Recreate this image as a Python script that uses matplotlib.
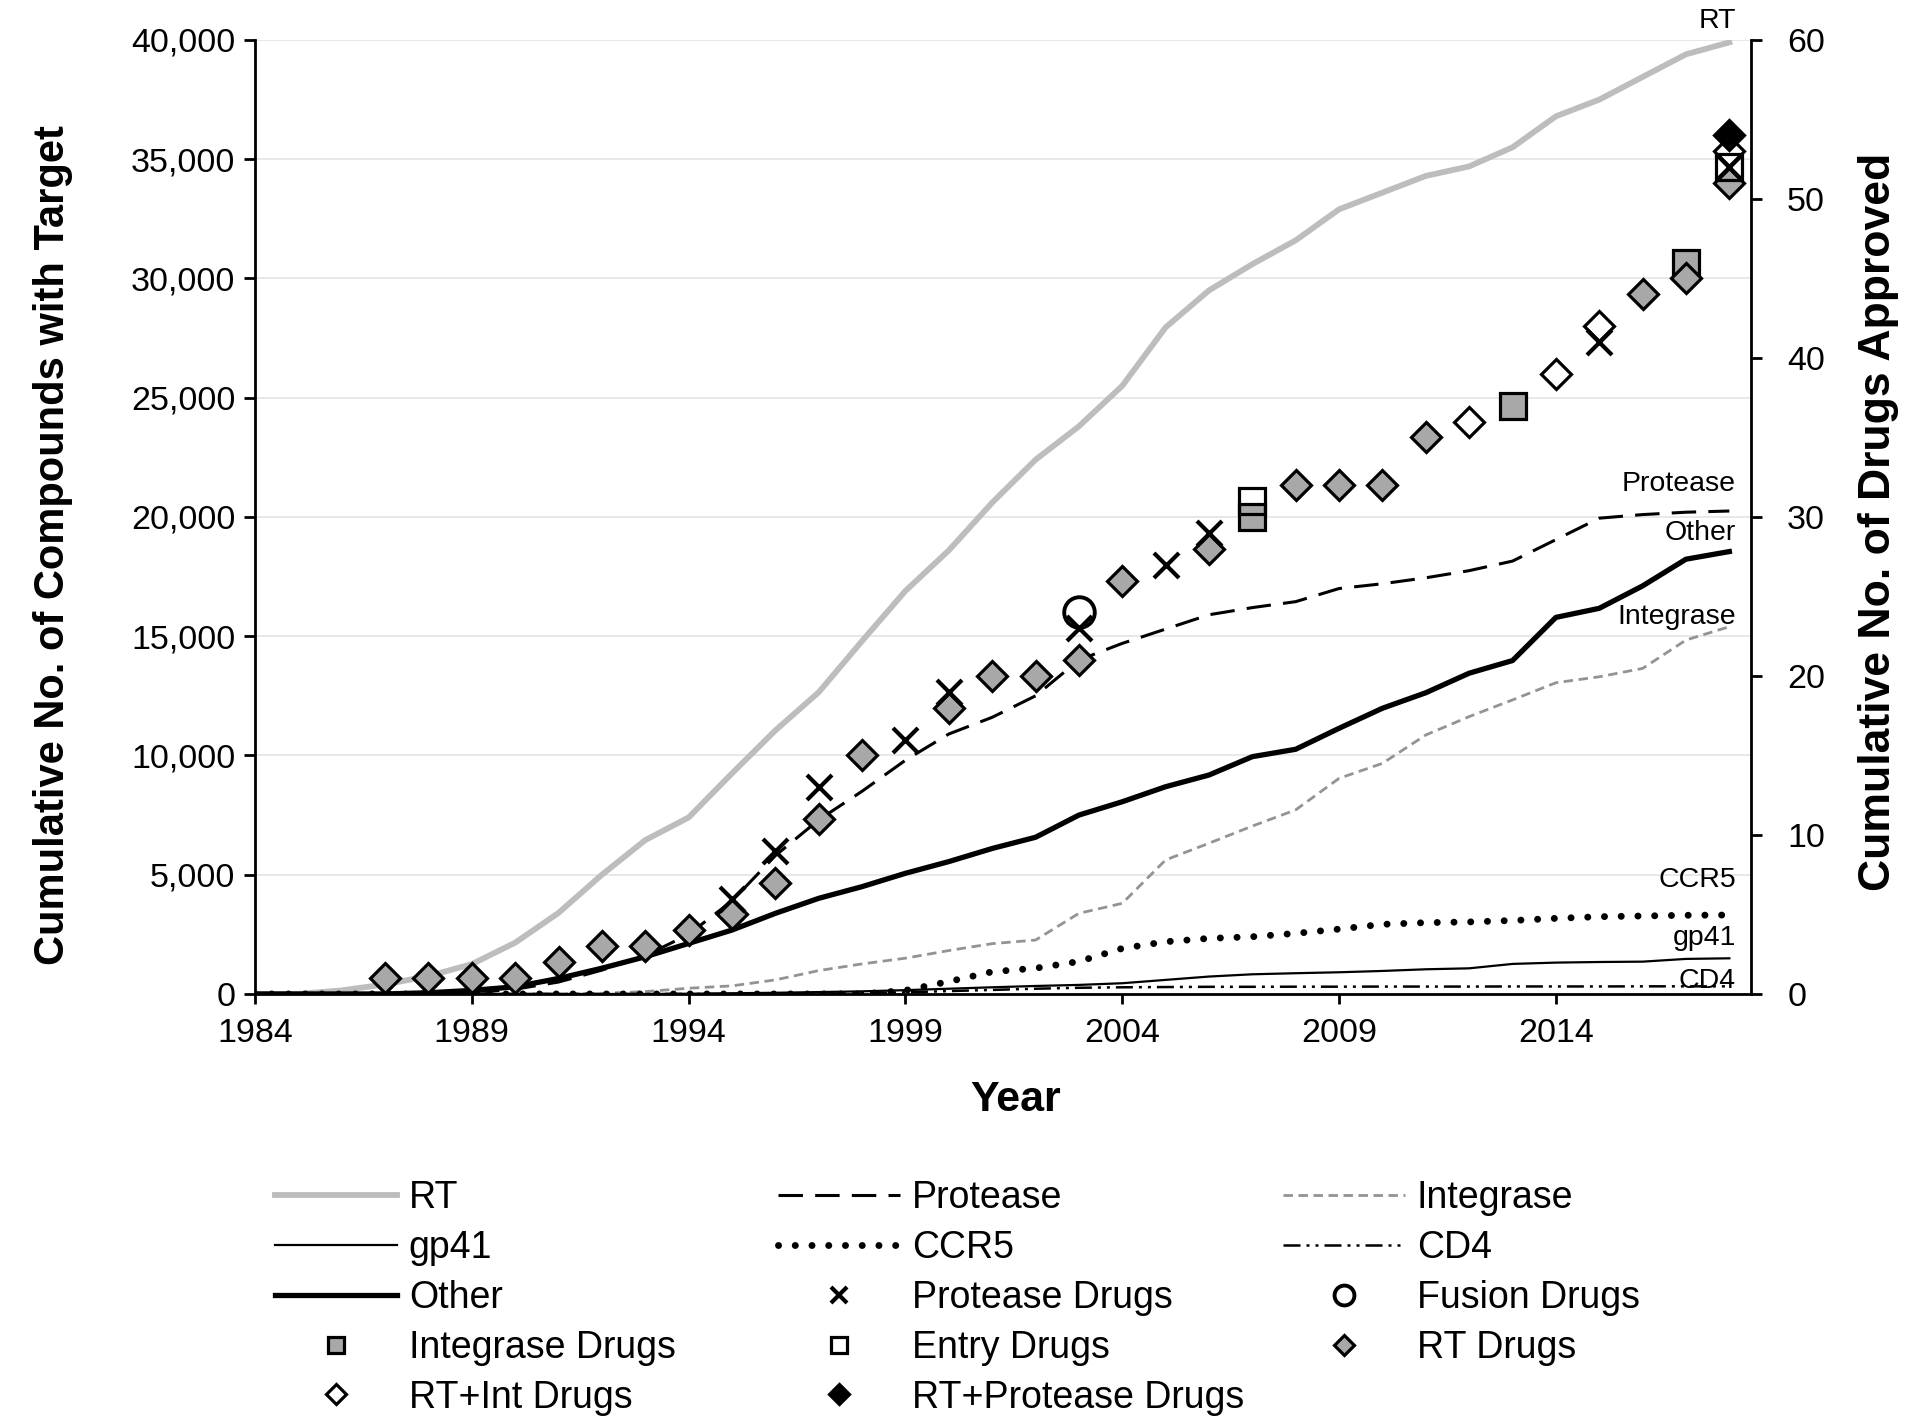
import matplotlib.pyplot as plt

plt.rcParams['font.family'] = ['Liberation Sans', 'DejaVu Sans']

# yearly cumulative compounds per target (left axis)
years = [1984, 1985, 1986, 1987, 1988, 1989, 1990, 1991, 1992, 1993, 1994, 1995,
         1996, 1997, 1998, 1999, 2000, 2001, 2002, 2003, 2004, 2005, 2006, 2007,
         2008, 2009, 2010, 2011, 2012, 2013, 2014, 2015, 2016, 2017, 2018]
rt = [0, 0, 150, 400, 750, 1250, 2150, 3400, 5000, 6450, 7400, 9250,
      11050, 12650, 14800, 16900, 18600, 20600, 22400, 23800, 25500, 27950, 29500, 30600,
      31600, 32900, 33600, 34300, 34700, 35500, 36800, 37500, 38450, 39400, 39900]
protease = [0, 0, 0, 0, 0, 50, 200, 500, 1000, 1600, 2500, 3900,
            5800, 7300, 8500, 9800, 10900, 11600, 12500, 14000, 14700, 15300, 15900, 16200,
            16450, 17000, 17200, 17450, 17750, 18150, 19050, 19950, 20100, 20200, 20250]
integrase = [0, 0, 0, 0, 0, 0, 0, 0, 30, 100, 240, 340,
             590, 980, 1260, 1500, 1820, 2110, 2260, 3380, 3800, 5620, 6320, 7040,
             7720, 9040, 9670, 10860, 11630, 12330, 13050, 13300, 13650, 14840, 15400]
gp41 = [0, 0, 0, 0, 0, 0, 0, 0, 0, 0, 10, 30,
        50, 80, 110, 160, 220, 280, 335, 380, 450, 590, 730, 825,
        870, 910, 965, 1035, 1075, 1260, 1315, 1340, 1355, 1470, 1495]
ccr5 = [0, 0, 0, 0, 0, 0, 0, 0, 0, 0, 0, 0,
        0, 0, 0, 150, 520, 930, 1080, 1360, 1910, 2190, 2330, 2400,
        2540, 2720, 2920, 2990, 3020, 3080, 3170, 3240, 3270, 3300, 3310]
cd4 = [0, 0, 0, 0, 0, 0, 0, 0, 0, 0, 0, 0,
       0, 0, 30, 70, 120, 170, 220, 260, 280, 290, 300, 300,
       305, 305, 310, 310, 310, 315, 315, 315, 320, 320, 320]
other = [0, 0, 0, 0, 50, 150, 300, 650, 1080, 1560, 2120, 2680,
         3380, 4010, 4500, 5060, 5550, 6100, 6570, 7500, 8060, 8690, 9180, 9950,
         10260, 11140, 11980, 12630, 13450, 13980, 15790, 16170, 17110, 18230, 18550]

# cumulative drugs approved (right axis), by class of new drug
rt_drug_years = [1987, 1988, 1989, 1990, 1991, 1992, 1993, 1994, 1995, 1996, 1997, 1998,
                 2000, 2001, 2002, 2003, 2004, 2006, 2008, 2009, 2010, 2011, 2016, 2017, 2018]
rt_drug_n = [1, 1, 1, 1, 2, 3, 3, 4, 5, 7, 11, 15,
             18, 20, 20, 21, 26, 28, 32, 32, 32, 35, 44, 45, 51]
prot_drug_years = [1995, 1996, 1997, 1999, 2000, 2003, 2005, 2006, 2015, 2018]
prot_drug_n = [6, 9, 13, 16, 19, 23, 27, 29, 41, 52]
int_drug_years = [2007, 2013, 2017]
int_drug_n = [30, 37, 46]
entry_drug_years = [2007, 2018]
entry_drug_n = [31, 52]
fusion_drug_years = [2003]
fusion_drug_n = [24]
rtint_drug_years = [2012, 2014, 2015, 2018]
rtint_drug_n = [36, 39, 42, 53]
rtprot_drug_years = [2018]
rtprot_drug_n = [54]

x_ticks = [1984, 1989, 1994, 1999, 2004, 2009, 2014]
y_ticks = [0, 5000, 10000, 15000, 20000, 25000, 30000, 35000, 40000]
y_ticklabels = ['0', '5,000', '10,000', '15,000', '20,000', '25,000', '30,000', '35,000', '40,000']
y2_ticks = [0, 10, 20, 30, 40, 50, 60]

fig = plt.figure(figsize=(19.2, 14.23), dpi=100)
ax = fig.add_axes([0.1328, 0.3015, 0.7792, 0.6704])

l_rt, = ax.plot(years, rt, color='#bdbdbd', lw=4.2, label='RT')
l_prot, = ax.plot(years, protease, color='black', lw=2.2, dashes=(8, 4), label='Protease')
l_int, = ax.plot(years, integrase, color='#939393', lw=2, dashes=(3.4, 2), label='Integrase')
l_gp41, = ax.plot(years, gp41, color='black', lw=1.6, label='gp41')
l_ccr5, = ax.plot(years, ccr5, color='black', lw=5, dashes=(0.01, 2.4),
                  dash_capstyle='round', label='CCR5')
l_cd4, = ax.plot(years, cd4, color='black', lw=1.8, dashes=(6.8, 2.4, 1.2, 2.4, 1.2, 2.4), label='CD4')
l_other, = ax.plot(years, other, color='black', lw=3.8, label='Other')

ax.set_xlim(1984, 2018.5)
ax.set_ylim(0, 40000)
ax.set_xticks(x_ticks)
ax.set_yticks(y_ticks)
ax.set_yticklabels(y_ticklabels)
ax.grid(axis='y', color='#e6e6e6', lw=1.3)
ax.set_axisbelow(True)
for s in ['top', 'right']:
    ax.spines[s].set_visible(False)
for s in ['left', 'bottom']:
    ax.spines[s].set_linewidth(2)
ax.tick_params(axis='y', direction='out', length=8, width=2, labelsize=24.5, pad=6)
ax.tick_params(axis='x', direction='out', length=7, width=2, labelsize=24.5, pad=10)

ax2 = ax.twinx()
ax2.set_ylim(0, 60)
ax2.set_yticks(y2_ticks)
for s in ['top', 'left', 'bottom']:
    ax2.spines[s].set_visible(False)
ax2.spines['right'].set_linewidth(2)
ax2.tick_params(axis='y', direction='out', length=8, width=2, labelsize=24.5, pad=18)

gray = '#a8a8a8'
m_int, = ax2.plot(int_drug_years, int_drug_n, ls='none', marker='s', ms=18.5, mfc=gray,
                  mec='black', mew=2.3, label='Integrase Drugs')
m_rt, = ax2.plot(rt_drug_years, rt_drug_n, ls='none', marker='D', ms=15.5, mfc=gray,
                 mec='black', mew=2.3, label='RT Drugs')
m_rtint, = ax2.plot(rtint_drug_years, rtint_drug_n, ls='none', marker='D', ms=15.5, mfc='white',
                    mec='black', mew=2.3, label='RT+Int Drugs')
m_entry, = ax2.plot(entry_drug_years, entry_drug_n, ls='none', marker='s', ms=18.5, mfc='none',
                    mec='black', mew=2.3, label='Entry Drugs')
m_prot, = ax2.plot(prot_drug_years, prot_drug_n, ls='none', marker='x', ms=18, mec='black',
                   mew=3, label='Protease Drugs')
m_fus, = ax2.plot(fusion_drug_years, fusion_drug_n, ls='none', marker='o', ms=22, mfc='none',
                  mec='black', mew=2.8, label='Fusion Drugs')
m_rtprot, = ax2.plot(rtprot_drug_years, rtprot_drug_n, ls='none', marker='D', ms=15.5, mfc='black',
                     mec='black', mew=2.3, label='RT+Protease Drugs')

# labels at the end of each line
end_labels = ['RT', 'Protease', 'Other', 'Integrase', 'CCR5', 'gp41', 'CD4']
end_label_y = [40800, 21400, 19340, 15800, 4760, 2350, 550]
for txt, yv in zip(end_labels, end_label_y):
    ax.text(2018.15, yv, txt, ha='right', va='center', fontsize=20.5, clip_on=False)

ax.set_xlabel('Year', fontsize=31, fontweight='bold')
ax.xaxis.set_label_coords(0.5087, -0.09)
ax.set_ylabel('Cumulative No. of Compounds with Target', fontsize=30, fontweight='bold')
ax.yaxis.set_label_coords(-0.1217, 0.4706)
ax2.set_ylabel('Cumulative No. of Drugs Approved', fontsize=32, fontweight='bold')
ax2.yaxis.set_label_coords(1.0715, 0.4948)

cols = [[l_rt, l_gp41, l_other, m_int, m_rtint],
        [l_prot, l_ccr5, m_prot, m_entry, m_rtprot],
        [l_int, l_cd4, m_fus, m_rt]]
col_x = [275, 778, 1283]
for handles, cx in zip(cols, col_x):
    fig.legend(handles=handles, loc='upper left', bbox_to_anchor=(cx / 1920, 1 - 1180 / 1423),
               fontsize=27, frameon=False, handlelength=3.25, handletextpad=0.32,
               labelspacing=0.37, borderpad=0, borderaxespad=0, markerscale=0.65)

fig.savefig('out.png', dpi=100)
